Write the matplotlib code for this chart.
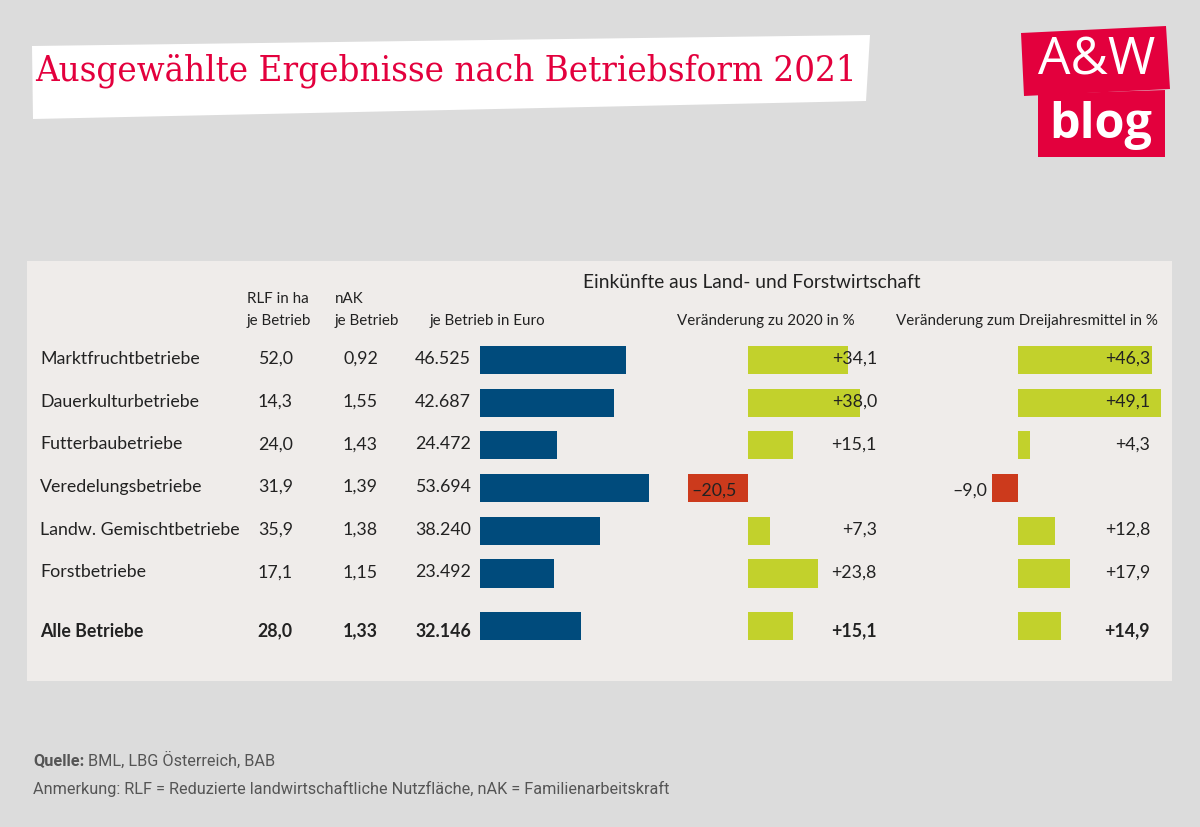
import matplotlib.pyplot as plt
from matplotlib.patches import Polygon, Rectangle

# data
categories = ["Marktfruchtbetriebe", "Dauerkulturbetriebe", "Futterbaubetriebe",
              "Veredelungsbetriebe", "Landw. Gemischtbetriebe", "Forstbetriebe",
              "Alle Betriebe"]
rlf_ha = [52.0, 14.3, 24.0, 31.9, 35.9, 17.1, 28.0]
nak = [0.92, 1.55, 1.43, 1.39, 1.38, 1.15, 1.33]
income_eur = [46525, 42687, 24472, 53694, 38240, 23492, 32146]
change_2020 = [34.1, 38.0, 15.1, -20.5, 7.3, 23.8, 15.1]
change_3yr = [46.3, 49.1, 4.3, -9.0, 12.8, 17.9, 14.9]

title = "Ausgewählte Ergebnisse nach Betriebsform 2021"
source = "BML, LBG Österreich, BAB"
note = "Anmerkung: RLF = Reduzierte landwirtschaftliche Nutzfläche, nAK = Familienarbeitskraft"

W, H = 1200, 828
BG = "#dcdcdc"
PANEL = "#efecea"
RED = "#e3003d"
BLUE = "#004b7c"
GREEN = "#c2d12c"
NEG = "#cc3a1c"
TXT = "#222222"
TABLE_FONT = "Lato"

ROW0, ROWSTEP = 361, 42.7
ypos = [0, 1, 2, 3, 4, 5, 6.23]  # last row sits a bit lower
BAR_H = 0.656


def de(v, d):
    return f"{abs(v):.{d}f}".replace(".", ",")


def signed(v):
    return ("+" if v >= 0 else "\u2013") + de(v, 1)


def euro(v):
    return f"{v:,}".replace(",", ".")


def px_axes(fig, left, top, width, height, z):
    ax = fig.add_axes([left / W, 1 - (top + height) / H, width / W, height / H], zorder=z)
    ax.set_facecolor("none")
    ax.axis("off")
    return ax


def bar_axes(fig, x0, scale, lo, hi):
    # x0: pixel of value 0, scale: px per unit
    top = ROW0 - 0.5 * ROWSTEP
    height = (ypos[-1] + 1) * ROWSTEP
    ax = px_axes(fig, x0 + lo * scale, top, (hi - lo) * scale, height, 1)
    ax.set_xlim(lo, hi)
    ax.set_ylim(ypos[-1] + 0.5, -0.5)
    return ax


fig = plt.figure(figsize=(W / 100, H / 100), dpi=100)
fig.patch.set_facecolor(BG)

bg = px_axes(fig, 0, 0, W, H, 0)
bg.set_xlim(0, W)
bg.set_ylim(H, 0)
bg.add_patch(Rectangle((27, 262), 1145, 420, facecolor=PANEL, edgecolor="none"))
# white title box (slightly skewed)
bg.add_patch(Polygon([(32, 47), (870, 36), (866, 102), (33, 120)], closed=True,
                     facecolor="white", edgecolor="none"))
# logo boxes
bg.add_patch(Polygon([(1021, 34), (1166, 27), (1170, 90), (1024, 97)], closed=True,
                     facecolor=RED, edgecolor="none"))
bg.add_patch(Polygon([(1038, 95), (1165, 91), (1165, 158), (1038, 158)], closed=True,
                     facecolor=RED, edgecolor="none"))

# bar columns
ax_eur = bar_axes(fig, 479.5, 0.003153, 0, 60000)
ax_eur.barh(ypos, income_eur, height=BAR_H, color=BLUE)

ax_c1 = bar_axes(fig, 748.3, 2.93, -25, 45)
ax_c1.barh(ypos, change_2020, height=BAR_H,
           color=[GREEN if v >= 0 else NEG for v in change_2020])

ax_c2 = bar_axes(fig, 1017.7, 2.91, -12, 55)
ax_c2.barh(ypos, change_3yr, height=BAR_H,
           color=[GREEN if v >= 0 else NEG for v in change_3yr])

# text layer
tx = px_axes(fig, 0, 0, W, H, 2)
tx.set_xlim(0, W)
tx.set_ylim(H, 0)

tx.text(35, 71, title, color=RED, fontsize=26.2, family="DejaVu Serif",
        fontstretch="condensed", va="center", ha="left")
tx.text(1097, 61, "A&W", color="white", fontsize=37, family="Open Sans",
        va="center", ha="center")
tx.text(1101, 125, "blog", color="white", fontsize=35, family="Open Sans",
        weight="bold", va="center", ha="center")

tx.text(752, 283, "Einkünfte aus Land- und Forstwirtschaft", color=TXT,
        fontsize=13.8, family=TABLE_FONT, ha="center", va="center")
hdr = dict(color=TXT, fontsize=10.9, family=TABLE_FONT, va="center", ha="left")
tx.text(247, 299, "RLF in ha", **hdr)
tx.text(247, 321, "je Betrieb", **hdr)
tx.text(335, 299, "nAK", **hdr)
tx.text(335, 321, "je Betrieb", **hdr)
tx.text(430, 321, "je Betrieb in Euro", **hdr)
tx.text(677, 321, "Veränderung zu 2020 in %", **hdr)
tx.text(896, 321, "Veränderung zum Dreijahresmittel in %", **hdr)

for i, name in enumerate(categories):
    total = name == "Alle Betriebe"
    y = ROW0 + ROWSTEP * ypos[i] + (4 if total else -2)
    st = dict(color=TXT, fontsize=12.8, family=TABLE_FONT, va="center",
              weight="bold" if total else "normal")
    tx.text(40, y, name, ha="left", **st)
    tx.text(293, y, de(rlf_ha[i], 1), ha="right", **st)
    tx.text(378, y, de(nak[i], 2), ha="right", **st)
    tx.text(471, y, euro(income_eur[i]), ha="right", **st)

    for ax, vals, right in ((ax_c1, change_2020, 877), (ax_c2, change_3yr, 1150)):
        v = vals[i]
        if v >= 0:
            tx.text(right, y, signed(v), ha="right", **st)
        elif ax is ax_c1:
            ax.annotate(signed(v), (v, ypos[i]), xytext=(2, -1), textcoords="offset points",
                        ha="left", **st)
        else:
            ax.annotate(signed(v), (v, ypos[i]), xytext=(-3, -1), textcoords="offset points",
                        ha="right", **st)

foot = dict(color="#555555", fontsize=11.7, family="Roboto", va="center", ha="left")
q = tx.text(33, 761, "Quelle:", weight="bold", **foot)
tx.annotate(" " + source, xy=(1, 0), xycoords=q, va="bottom", ha="left",
            color="#555555", fontsize=11.7, family="Roboto")
tx.text(33, 789, note, **foot)

fig.savefig("out.png", dpi=100, facecolor=BG)
